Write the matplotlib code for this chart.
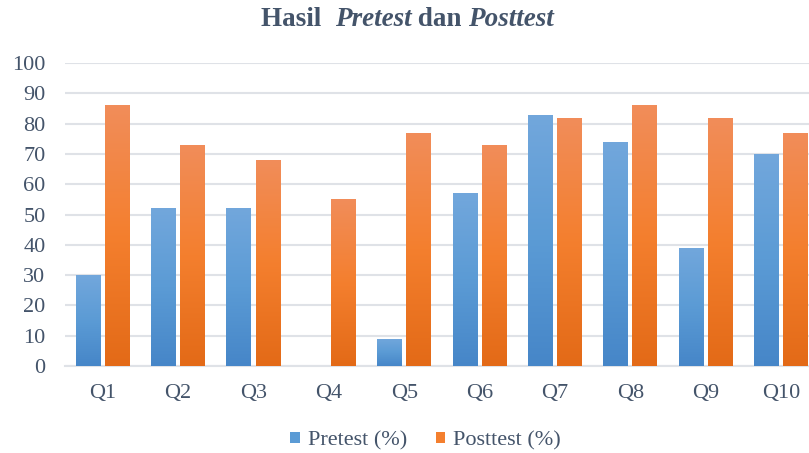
import numpy as np
import matplotlib
matplotlib.use("Agg")
import matplotlib.pyplot as plt
from matplotlib.colors import LinearSegmentedColormap
from matplotlib.patches import Patch

# data
categories = ["Q1", "Q2", "Q3", "Q4", "Q5", "Q6", "Q7", "Q8", "Q9", "Q10"]
pretest = [30, 52, 52, 0, 9, 57, 83, 74, 39, 70]
posttest = [86, 73, 68, 55, 77, 73, 82, 86, 82, 77]
yticks = [0, 10, 20, 30, 40, 50, 60, 70, 80, 90, 100]

SERIF = "Liberation Serif"
TEXT_COL = "#44546a"
plt.rcParams["font.family"] = [SERIF, "DejaVu Serif"]

blue_cmap = LinearSegmentedColormap.from_list("blue", ["#4686c8", "#5b9bd5", "#72a7dc"])
orange_cmap = LinearSegmentedColormap.from_list("orange", ["#e36a17", "#f47f2e", "#f18d5a"])

fig = plt.figure(figsize=(8.09, 4.53), dpi=100)
ax = fig.add_axes([65 / 809, 87 / 453, 1 - 65 / 809, (366 - 63) / 453])

x = np.arange(len(categories))
width = 0.33
offset = 0.193


def gradient_bars(xpos, values, cmap):
    bars = ax.bar(xpos, values, width, facecolor="none", edgecolor="none", zorder=3)
    grad = np.linspace(0, 1, 256).reshape(-1, 1)
    for b in bars:
        if b.get_height() <= 0:
            continue
        x0, y0 = b.get_x(), b.get_y()
        im = ax.imshow(grad, cmap=cmap, origin="lower", aspect="auto",
                       extent=[x0, x0 + b.get_width(), y0, y0 + b.get_height()],
                       zorder=3, interpolation="bilinear")
        im.set_clip_path(b)
    return bars


gradient_bars(x - offset, pretest, blue_cmap)
gradient_bars(x + offset, posttest, orange_cmap)

ax.set_xlim(-0.5, 9.37)
ax.set_ylim(0, 100)
ax.set_yticks(yticks)
ax.set_xticks(x)
ax.set_xticklabels(categories)
ax.yaxis.grid(True, color="#dfe2e7", linewidth=1.5, zorder=0)
ax.set_axisbelow(True)
for side in ["top", "right", "left"]:
    ax.spines[side].set_visible(False)
ax.spines["bottom"].set_color("#dfe2e7")
ax.spines["bottom"].set_linewidth(1.5)
ax.tick_params(axis="both", length=0, labelsize=16, labelcolor=TEXT_COL)
ax.tick_params(axis="y", pad=14)
ax.tick_params(axis="x", pad=13)

# title with italic words, pieced together
parts = [("Hasil  ", "normal"), ("Pretest", "italic"), (" dan ", "normal"), ("Posttest", "italic")]
texts = []
for s, style in parts:
    t = fig.text(0, 0.958, s, fontsize=19.5, fontweight="bold", style=style,
                 color=TEXT_COL, va="center", ha="left")
    texts.append(t)
fig.canvas.draw()
r = fig.canvas.get_renderer()
widths = [t.get_window_extent(r).width for t in texts]
total = sum(widths)
cur = (fig.bbox.width - total) / 2 + 3
for t, w in zip(texts, widths):
    t.set_x(cur / fig.bbox.width)
    cur += w

handles = [Patch(facecolor="#5b9bd5", label="Pretest (%)"),
           Patch(facecolor="#f47f2e", label="Posttest (%)")]
fig.legend(handles=handles, loc="center", bbox_to_anchor=(0.526, 0.027), ncol=2,
           frameon=False, prop={"size": 16}, labelcolor=TEXT_COL,
           handlelength=0.42, handleheight=0.42, handletextpad=0.35, columnspacing=1.3)

fig.savefig("out.png", dpi=100)
